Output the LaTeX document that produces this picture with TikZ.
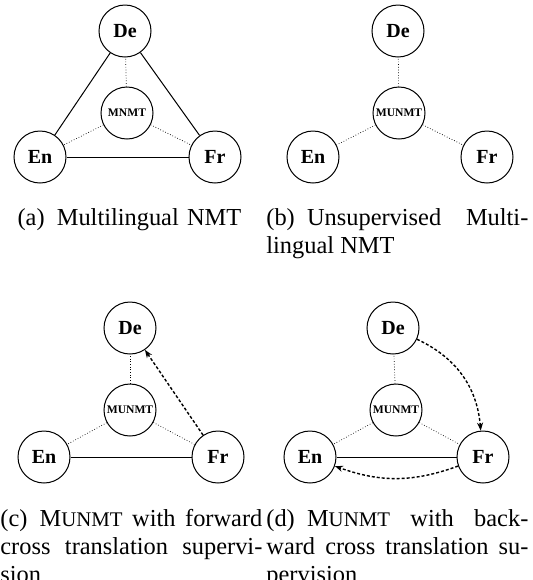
\documentclass[tikz,border=0pt]{standalone}
\usepackage{fontspec}
\setmainfont{Liberation Serif}
\usetikzlibrary{arrows.meta}
\newcommand{\munmt}{M{\fontsize{10.4}{10}\selectfont UNMT}}
\hyphenpenalty=10000
\tolerance=9999
\begin{document}
\begin{tikzpicture}[x=0.5pt,y=-0.5pt,
  lang/.style={draw,circle,minimum size=26pt,inner sep=0pt,line width=0.5pt,font=\fontsize{10}{12}\selectfont\bfseries},
  model/.style={lang,font=\fontsize{5.8}{7}\selectfont\bfseries},
  link/.style={line width=0.5pt},
  share/.style={densely dotted,line width=0.35pt},
  cross/.style={dash pattern=on 1.5pt off 1pt,line width=0.7pt,-{Stealth[length=4pt,width=3pt]}},
  caption/.style={text width=131pt,inner sep=0pt,anchor=north west,align=justify,font=\fontsize{12.2}{14}\selectfont}]

\useasboundingbox (0,0) rectangle (532,580);

\node[lang] (deA) at (125,31) {De};
\node[model] (mnmt) at (127,113) {MNMT};
\node[lang] (enA) at (40,157) {En};
\node[lang] (frA) at (215,157) {Fr};

\draw[link] (enA)--(deA);
\draw[link] (deA)--(frA);
\draw[link] (enA)--(frA);
\draw[share] (mnmt)--(deA);
\draw[share] (mnmt)--(enA);
\draw[share] (mnmt)--(frA);

\node[lang] (deB) at (398,31) {De};
\node[model] (munmtB) at (399,113) {MUNMT};
\node[lang] (enB) at (313,157) {En};
\node[lang] (frB) at (487,157) {Fr};

\draw[share] (munmtB)--(deB);
\draw[share] (munmtB)--(enB);
\draw[share] (munmtB)--(frB);

\node[lang] (deC) at (130,328) {De};
\node[model] (munmtC) at (130,410) {MUNMT};
\node[lang] (enC) at (44,457) {En};
\node[lang] (frC) at (218,457) {Fr};

\draw[link] (enC)--(frC);
\draw[share] (munmtC)--(deC);
\draw[share] (munmtC)--(enC);
\draw[share] (munmtC)--(frC);
\draw[cross] (frC)--(deC);

\node[lang] (deD) at (393,328) {De};
\node[model] (munmtD) at (396,410) {MUNMT};
\node[lang] (enD) at (310,457) {En};
\node[lang] (frD) at (483,457) {Fr};

\draw[link] (enD)--(frD);
\draw[share] (munmtD)--(deD);
\draw[share] (munmtD)--(enD);
\draw[share] (munmtD)--(frD);
\draw[cross] (deD) to[bend left=30] (frD);
\draw[cross] (frD) to[bend left=20] (enD);

\node[caption,align=center] (capA) at (-2,208) {(a)\hspace{0.5em}Multilingual NMT};

\node[caption] (capB) at (266,208) {(b)\hspace{0.5em}Unsupervised Multi-\linebreak lingual NMT};

\node[caption] (capC) at (0,509) {(c)\hspace{0.5em}\munmt{} with forward\linebreak cross translation supervi-\linebreak sion};

\node[caption] (capD) at (266,509) {(d)\hspace{0.5em}\munmt{} with back-\linebreak ward cross translation su-\linebreak pervision};

\end{tikzpicture}
\end{document}
